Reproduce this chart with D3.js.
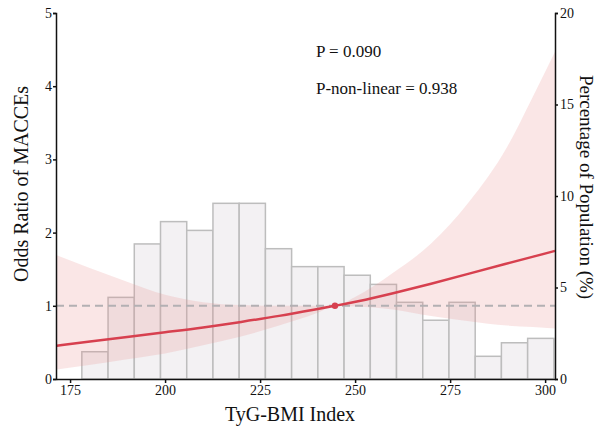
<!DOCTYPE html>
<html><head><meta charset="utf-8">
<script src="https://cdn.jsdelivr.net/npm/d3@7"></script>
<style>body{margin:0;background:#fff}svg text{font-family:"Times New Roman","Liberation Serif",Tinos,"DejaVu Serif",serif;fill:#111}</style>
</head><body><svg id="c" width="600" height="426"></svg>
<script>
// Histogram: bin lower edges (TyG-BMI) and percentage of population
const binStarts = [178.1,185.0,191.9,198.8,205.7,212.6,219.5,226.4,233.3,240.2,247.1,254.0,260.9,267.8,274.7,281.6,288.5,295.4];
const binWidth = 6.9;
const binPct = [1.49,4.46,7.38,8.60,8.12,9.60,9.60,7.12,6.14,6.14,5.67,5.17,4.19,3.21,4.19,1.24,1.98,2.22];
// Restricted cubic spline curve: x, odds ratio, CI
const curveX = [171.5,180,190,200,210,220,230,240,244.7,250,260,270,280,290,296.8,302.6];
const curveOR = [0.455,0.51,0.575,0.64,0.70,0.78,0.86,0.955,1.0,1.05,1.17,1.30,1.44,1.58,1.67,1.75];
const ciUpper = [1.69,1.52,1.33,1.15,1.05,1.01,1.0,1.0,1.0,1.12,1.45,1.85,2.42,3.17,3.86,4.47];
const ciLower = [0.13,0.19,0.27,0.35,0.46,0.58,0.73,0.90,1.0,0.99,0.95,0.86,0.79,0.73,0.71,0.69];
const refX = 244.7, refOR = 1;
const xTicks = [175,200,225,250,275,300];
const yTicks = [0,1,2,3,4,5];
const y2Ticks = [0,5,10,15,20];
const pTexts = ["P = 0.090","P-non-linear = 0.938"];

const svg = d3.select("#c");
const L=56,R=555,T=13,B=379;
const x = d3.scaleLinear().domain([171.3,302.6]).range([L,R]);
const y = d3.scaleLinear().domain([0,5]).range([B,T]);
const y2 = d3.scaleLinear().domain([0,20]).range([B,T]);

// histogram
svg.append("g").selectAll("rect").data(binStarts).join("rect")
  .attr("x",d=>x(d)).attr("width",d=>x(d+binWidth)-x(d))
  .attr("y",(d,i)=>y2(binPct[i])).attr("height",(d,i)=>B-y2(binPct[i]))
  .attr("fill","#f3f1f3").attr("stroke","#bdbdbd").attr("stroke-width",1.5);

const pts = curveX.map((d,i)=>({x:d,or:curveOR[i],lo:ciLower[i],hi:ciUpper[i]}));
svg.append("path").datum(pts)
  .attr("d",d3.area().x(d=>x(d.x)).y0(d=>y(d.lo)).y1(d=>y(d.hi)).curve(d3.curveMonotoneX))
  .attr("fill","#ea8f8f").attr("fill-opacity",0.22);

svg.append("line").attr("x1",L).attr("x2",R).attr("y1",y(1)).attr("y2",y(1))
  .attr("stroke","#b3b0b3").attr("stroke-width",2).attr("stroke-dasharray","8,5");

svg.append("path").datum(pts)
  .attr("d",d3.line().x(d=>x(d.x)).y(d=>y(d.or)).curve(d3.curveBasis))
  .attr("fill","none").attr("stroke","#d7404f").attr("stroke-width",2.5);
svg.append("circle").attr("cx",x(refX)).attr("cy",y(refOR)).attr("r",3.2).attr("fill","#d7404f");

// axes
const ax = svg.append("g").attr("transform",`translate(0,${B})`)
  .call(d3.axisBottom(x).tickValues(xTicks).tickFormat(d3.format("d")).tickSize(4).tickPadding(2).tickSizeOuter(0));
const ay = svg.append("g").attr("transform",`translate(${L},0)`)
  .call(d3.axisLeft(y).tickValues(yTicks).tickFormat(d3.format("d")).tickSize(3).tickPadding(1).tickSizeOuter(3));
const ay2 = svg.append("g").attr("transform",`translate(${R},0)`)
  .call(d3.axisRight(y2).tickValues(y2Ticks).tickFormat(d3.format("d")).tickSize(3).tickPadding(2).tickSizeOuter(3));
[ax,ay,ay2].forEach(g=>{
  g.attr("font-family",null);
  g.selectAll("path,line").attr("stroke","#111").attr("stroke-width",1.5);
  g.selectAll("text").attr("font-size",14).attr("fill","#222");
});

svg.append("text").attr("x",290).attr("y",421).attr("text-anchor","middle").attr("font-size",20).text("TyG-BMI Index");
svg.append("text").attr("transform","translate(28,184) rotate(-90)").attr("text-anchor","middle").attr("font-size",20).text("Odds Ratio of MACCEs");
svg.append("text").attr("transform","translate(580,187) rotate(90)").attr("text-anchor","middle").attr("font-size",19).text("Percentage of Population (%)");
svg.selectAll("text.p").data(pTexts).join("text").attr("class","p")
  .attr("x",316).attr("y",(d,i)=>57+i*37).attr("font-size",17).text(d=>d);
</script></body></html>
